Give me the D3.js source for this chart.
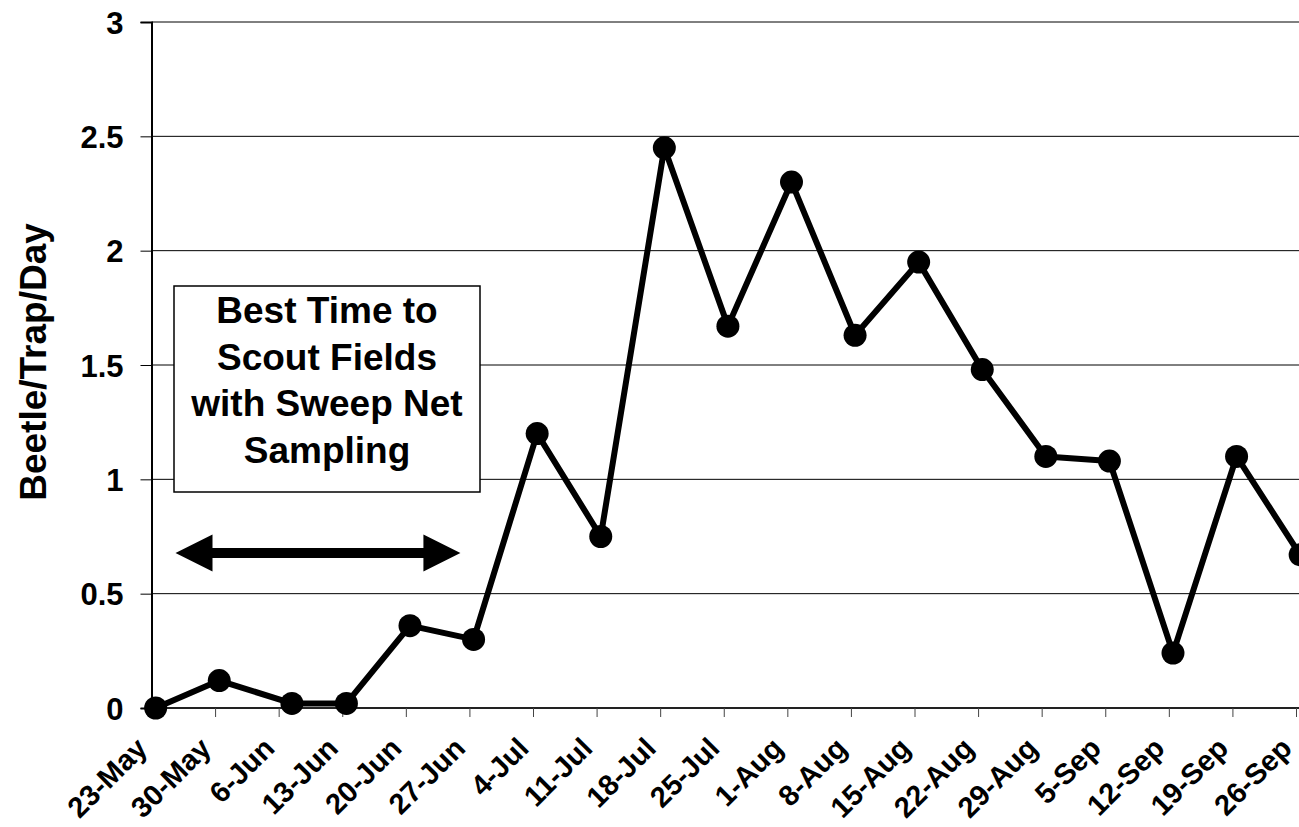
<!DOCTYPE html>
<html>
<head>
<meta charset="utf-8">
<script src="https://cdn.jsdelivr.net/npm/d3@7"></script>
<style>
  body { margin: 0; background: #fff; }
  svg text { font-family: Arial, "Liberation Sans", sans-serif; font-weight: bold; fill: #000; }
</style>
</head>
<body>
<svg id="chart" width="1299" height="827"></svg>
<script>
// Weekly trap catches (beetles per trap per day)
const sampleDates = ["23-May", "30-May", "7-Jun", "13-Jun", "20-Jun", "27-Jun", "4-Jul", "11-Jul",
  "18-Jul", "25-Jul", "1-Aug", "8-Aug", "15-Aug", "22-Aug", "29-Aug", "5-Sep", "12-Sep", "19-Sep", "26-Sep"];
const beetlesPerTrapDay = [0, 0.12, 0.02, 0.02, 0.36, 0.30, 1.20, 0.75,
  2.45, 1.67, 2.30, 1.63, 1.95, 1.48, 1.10, 1.08, 0.24, 1.10, 0.67];
const xTickLabels = ["23-May", "30-May", "6-Jun", "13-Jun", "20-Jun", "27-Jun", "4-Jul", "11-Jul", "18-Jul",
  "25-Jul", "1-Aug", "8-Aug", "15-Aug", "22-Aug", "29-Aug", "5-Sep", "12-Sep", "19-Sep", "26-Sep"];
const yTickValues = [0, 0.5, 1, 1.5, 2, 2.5, 3];
const yTitle = "Beetle/Trap/Day";
const noteLines = ["Best Time to", "Scout Fields", "with Sweep Net", "Sampling"];
const scoutWindow = ["23-May", "27-Jun"];

const parseDay = s => d3.timeParse("%d-%b-%Y")(s + "-2005");
// traps are read around midday on each sampling date
const sampleTime = s => d3.timeHour.offset(parseDay(s), 11);

const svg = d3.select("#chart");
const plot = { left: 151.5, top: 22, bottom: 708, right: 1299 };

const x = d3.scaleTime()
  .domain([parseDay(xTickLabels[0]), parseDay(xTickLabels[xTickLabels.length - 1])])
  .range([plot.left, 1296]);
const y = d3.scaleLinear().domain([0, 3]).range([plot.bottom, plot.top]);

// horizontal gridlines
svg.append("g")
  .selectAll("line")
  .data(yTickValues.filter(v => v > 0))
  .join("line")
  .attr("x1", plot.left).attr("x2", plot.right)
  .attr("y1", d => y(d)).attr("y2", d => y(d))
  .attr("stroke", "#000").attr("stroke-width", 1);

// y axis
const yAxis = svg.append("g")
  .attr("transform", `translate(${plot.left},0)`)
  .call(d3.axisLeft(y).tickValues(yTickValues).tickFormat(d3.format("")).tickSize(11).tickPadding(17));
yAxis.select(".domain").attr("stroke", "#000").attr("stroke-width", 2);
yAxis.selectAll(".tick line").attr("stroke", "#000");
yAxis.selectAll(".tick text").attr("font-size", 31).attr("dy", "0.36em");

// x axis
const xAxis = svg.append("g")
  .attr("transform", `translate(0,${plot.bottom})`)
  .call(d3.axisBottom(x).tickValues(xTickLabels.map(parseDay))
    .tickFormat(d3.timeFormat("%-d-%b")).tickSizeInner(9).tickSizeOuter(0));
xAxis.select(".domain").attr("stroke", "#222").attr("stroke-width", 2)
  .attr("d", `M${plot.left},0H${plot.right}`);
xAxis.selectAll(".tick line").attr("stroke", "#444");
xAxis.selectAll(".tick text")
  .attr("font-size", 29)
  .attr("text-anchor", "end")
  .attr("dy", 0)
  .attr("y", 0).attr("x", 0)
  .attr("transform", "translate(-3,42) rotate(-45)");

// y axis title
svg.append("text")
  .attr("transform", `translate(46,362) rotate(-90)`)
  .attr("text-anchor", "middle")
  .attr("font-size", 37)
  .text(yTitle);

// scouting window note
const note = svg.append("g");
note.append("rect")
  .attr("x", 174).attr("y", 286).attr("width", 306).attr("height", 206)
  .attr("fill", "#fff").attr("stroke", "#000").attr("stroke-width", 1.5);
note.selectAll("text")
  .data(noteLines)
  .join("text")
  .attr("x", 327)
  .attr("y", (d, i) => 323 + i * 46.7)
  .attr("text-anchor", "middle")
  .attr("font-size", 37)
  .text(d => d);

// double-headed arrow across the scouting window
const ax0 = x(parseDay(scoutWindow[0])) + 24, ax1 = x(parseDay(scoutWindow[1])) - 9, ay = 553;
const head = 37, halfH = 18.5, halfShaft = 5;
note.append("path")
  .attr("d", `M${ax0},${ay} L${ax0 + head},${ay - halfH} L${ax0 + head},${ay - halfShaft}
    L${ax1 - head},${ay - halfShaft} L${ax1 - head},${ay - halfH} L${ax1},${ay}
    L${ax1 - head},${ay + halfH} L${ax1 - head},${ay + halfShaft} L${ax0 + head},${ay + halfShaft}
    L${ax0 + head},${ay + halfH} Z`)
  .attr("fill", "#000");

// catch series
const series = sampleDates.map((d, i) => ({ t: sampleTime(d), v: beetlesPerTrapDay[i] }));
svg.append("path")
  .datum(series)
  .attr("fill", "none")
  .attr("stroke", "#000")
  .attr("stroke-width", 6)
  .attr("stroke-linejoin", "round")
  .attr("d", d3.line().x(d => x(d.t)).y(d => y(d.v)));
svg.append("g")
  .selectAll("circle")
  .data(series)
  .join("circle")
  .attr("cx", d => x(d.t)).attr("cy", d => y(d.v))
  .attr("r", 11.5)
  .attr("fill", "#000");
</script>
</body>
</html>
